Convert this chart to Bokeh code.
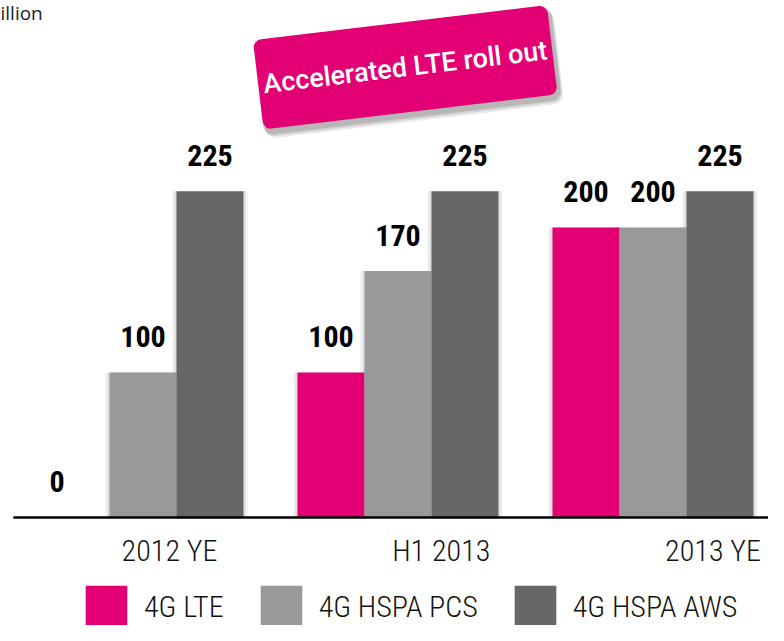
import numpy as np
from bokeh.plotting import figure
from bokeh.models import Range1d, Legend, LegendItem, Label, ColumnDataSource
from bokeh.core.properties import value
from bokeh.embed import file_html
from bokeh.resources import INLINE

# ---- data ----
categories = ["2012 YE", "H1 2013", "2013 YE"]
series_names = ["4G LTE", "4G HSPA PCS", "4G HSPA AWS"]
lte = [0, 100, 200]
hspa_pcs = [100, 170, 200]
hspa_aws = [225, 225, 225]
unit_note = "illion"
callout_text = "Accelerated LTE roll out"

colors = ["#E20074", "#999999", "#666666"]
COND_LIGHT = "Roboto Condensed Light"
COND = "Roboto Condensed"

W, H = 768, 625
x_lo, x_hi = -0.0588, 2.9530
p = figure(width=W, height=H, output_backend="svg", toolbar_location=None,
           x_range=Range1d(x_lo, x_hi), y_range=Range1d(-74.48, 356.55),
           min_border=0, outline_line_color=None)
p.axis.visible = False
p.grid.visible = False
p.background_fill_color = "white"
p.border_fill_color = "white"

centers = np.arange(len(categories)) + 0.5
bar_w = 0.2627
offsets = [-bar_w, 0.0, bar_w]
all_series = [lte, hspa_pcs, hspa_aws]

# soft bar shadows
for vals, off in zip(all_series, offsets):
    for k, a in [(0.035, 0.05), (0.018, 0.07)]:
        p.vbar(x=centers + off, top=vals, bottom=0, width=bar_w + k,
               fill_color="black", fill_alpha=[a if v > 0 else 0 for v in vals],
               line_color=None)

renderers = []
for vals, off, col in zip(all_series, offsets, colors):
    src = ColumnDataSource(dict(x=centers + off, top=vals,
                                lbl=[str(v) for v in vals],
                                dx=[-19 if v == 0 else 0 for v in vals]))
    r = p.vbar(x="x", top="top", bottom=0, width=bar_w, source=src,
               fill_color=col, line_color=None)
    renderers.append(r)
    p.text(x="x", y="top", text="lbl", source=src, y_offset=-36, x_offset="dx",
           text_align="center", text_baseline="alphabetic",
           text_font=value(COND), text_font_style="bold",
           text_font_size="30px", text_color="black")

# baseline axis line
p.segment(x0=[x_lo + 0.05], y0=[0], x1=[x_hi], y1=[0], line_color="black", line_width=2.5)

# category labels
cat_src = ColumnDataSource(dict(x=0.6039 + 1.0657 * np.arange(len(categories)),
                                y=[0] * len(categories), t=categories))
p.text(x="x", y="y", text="t", source=cat_src, y_offset=33,
       text_align="center", text_baseline="alphabetic",
       text_font=value(COND_LIGHT), text_font_size="30px", text_color="#111111")

# callout box with shadow
cx, cy, ang = 1.5284, 310.5, 0.119
for dx, dy, a in [(0.018, -5.0, 0.08), (0.013, -3.8, 0.10), (0.008, -2.6, 0.13)]:
    p.rect(x=cx + dx, y=cy + dy, width=300, height=94, width_units="screen",
           height_units="screen", angle=ang, fill_color="black", fill_alpha=a,
           line_color=None, border_radius=10)
p.rect(x=cx, y=cy, width=296, height=90, width_units="screen", height_units="screen",
       angle=ang, fill_color="#E20074", line_color=None, border_radius=8)
p.text(x=[cx], y=[cy], text=[callout_text], angle=ang, text_align="center",
       text_baseline="middle", text_font=value("Roboto Medium"), text_font_size="27px",
       text_color="white")

# cropped unit note top-left
p.add_layout(Label(x=0, y=613, x_units="screen", y_units="screen", text=unit_note,
                   text_font="Open Sans", text_font_size="19px", text_color="#222222",
                   text_baseline="alphabetic"))

legend = Legend(items=[LegendItem(label=n, renderers=[r]) for n, r in zip(series_names, renderers)],
                orientation="horizontal", location=(80, -7),
                glyph_width=52, glyph_height=52, label_standoff=12, spacing=31,
                padding=0, margin=0, border_line_color=None, background_fill_alpha=0,
                label_text_font=COND_LIGHT, label_text_font_size="30px",
                label_text_color="#111111")
p.add_layout(legend)

open("out.html", "w").write(file_html(p, INLINE))
